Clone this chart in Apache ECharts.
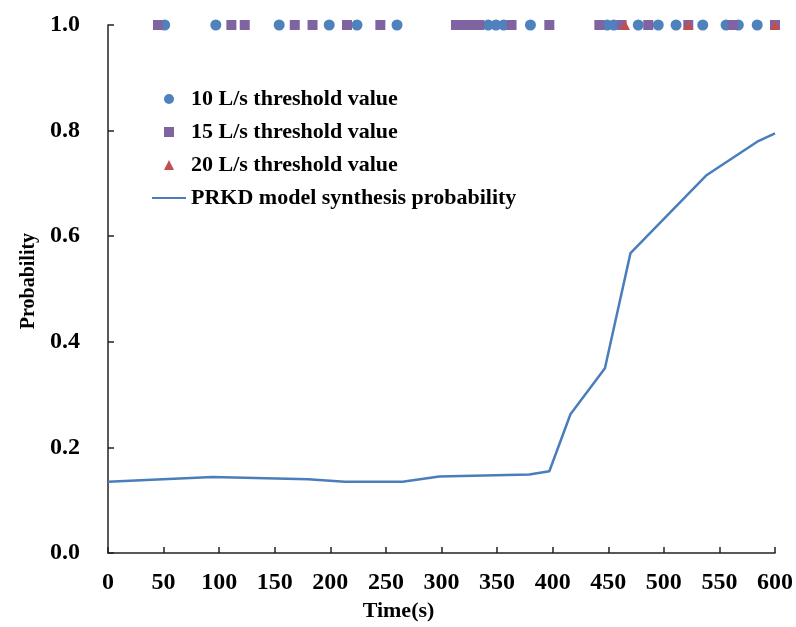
<!DOCTYPE html>
<html>
<head>
<meta charset="utf-8">
<script src="https://cdn.jsdelivr.net/npm/echarts@6/dist/echarts.min.js"></script>
<style>
  html, body { margin: 0; padding: 0; background: #fff; }
  #chart { width: 796px; height: 627px; }
</style>
</head>
<body>
<div id="chart"></div>
<script>
// Times (s) at which each leakage threshold was exceeded (plotted at probability 1.0)
const threshold10 = [51, 97, 154, 199, 224, 260, 342, 349, 356, 380, 449, 455, 477, 495, 511, 535, 556, 567, 584];
const threshold15 = [45, 111, 123, 168, 184, 215, 245, 313, 321, 328, 334, 363, 397, 442, 462, 486, 522, 562, 600];
const threshold20 = [465, 522, 600];

// PRKD model synthesis probability over time
const modelTime = [0, 94, 180, 213, 265, 298, 379, 397, 416, 447, 470, 538, 584, 600];
const modelProb = [0.135, 0.144, 0.140, 0.135, 0.135, 0.145, 0.149, 0.155, 0.263, 0.350, 0.568, 0.715, 0.779, 0.795];

const xTicks = { min: 0, max: 600, step: 50 };
const yTicks = { min: 0, max: 1, step: 0.2 };

const serif = '"Liberation Serif", "Times New Roman", serif';
const axisColor = '#222';
const blue = '#4F81BD', lineBlue = '#4A7EBB', purple = '#8064A2', red = '#C0504D';

const atOne = arr => arr.map(t => [t, 1]);

// Legend icons keep their own aspect ratio inside the legend slot
const iconSquare = 'path://M0,0 L10,0 L10,10 L0,10 Z';
const iconTriangle = 'path://M5,0 L10,10 L0,10 Z';
const iconLine = 'path://M0,0 L34,0 L34,2.2 L0,2.2 Z';

const chart = echarts.init(document.getElementById('chart'), null, { renderer: 'canvas' });
chart.setOption({
  animation: false,
  backgroundColor: '#fff',
  grid: { left: 108, right: 19, top: 25, bottom: 73, containLabel: false },
  legend: {
    orient: 'vertical',
    left: 147,
    top: 82,
    itemWidth: 34,
    itemHeight: 10,
    itemGap: 9,
    symbolKeepAspect: true,
    textStyle: { fontFamily: serif, fontWeight: 'bold', fontSize: 22, color: '#000', lineHeight: 24 },
    data: [
      { name: '10 L/s threshold value', icon: 'circle' },
      { name: '15 L/s threshold value', icon: iconSquare },
      { name: '20 L/s threshold value', icon: iconTriangle },
      { name: 'PRKD model synthesis probability', icon: iconLine }
    ]
  },
  xAxis: {
    type: 'value',
    min: xTicks.min, max: xTicks.max, interval: xTicks.step,
    name: 'Time(s)',
    nameLocation: 'middle',
    nameGap: 46,
    nameTextStyle: { fontFamily: serif, fontWeight: 'bold', fontSize: 22, color: '#000', padding: [0, 86, 0, 0] },
    axisLine: { show: true, onZero: false, lineStyle: { color: axisColor, width: 1.5 } },
    axisTick: { show: true, inside: true, length: 6, lineStyle: { color: axisColor, width: 1.5 } },
    axisLabel: { fontFamily: serif, fontWeight: 'bold', fontSize: 24, color: '#000', margin: 18 },
    splitLine: { show: false }
  },
  yAxis: {
    type: 'value',
    min: yTicks.min, max: yTicks.max, interval: yTicks.step,
    name: 'Probability',
    nameLocation: 'middle',
    nameGap: 69,
    nameTextStyle: { fontFamily: serif, fontWeight: 'bold', fontSize: 20, color: '#000', padding: [0, 0, 0, 16] },
    axisLine: { show: true, lineStyle: { color: axisColor, width: 1.5 } },
    axisTick: { show: true, inside: true, length: 6, lineStyle: { color: axisColor, width: 1.5 } },
    axisLabel: { fontFamily: serif, fontWeight: 'bold', fontSize: 24, color: '#000', margin: 28,
                 formatter: v => v.toFixed(1) },
    splitLine: { show: false }
  },
  series: [
    {
      name: 'PRKD model synthesis probability',
      type: 'line',
      data: modelTime.map((t, i) => [t, modelProb[i]]),
      symbol: 'none',
      lineStyle: { color: lineBlue, width: 2.5 },
      itemStyle: { color: lineBlue },
      z: 2
    },
    {
      name: '10 L/s threshold value',
      type: 'scatter',
      data: atOne(threshold10),
      symbol: 'circle',
      symbolSize: 11,
      clip: false,
      itemStyle: { color: blue, opacity: 1 },
      z: 3
    },
    {
      name: '15 L/s threshold value',
      type: 'scatter',
      data: atOne(threshold15),
      symbol: 'rect',
      symbolSize: 10,
      clip: false,
      itemStyle: { color: purple, opacity: 1 },
      z: 4
    },
    {
      name: '20 L/s threshold value',
      type: 'scatter',
      data: atOne(threshold20),
      symbol: 'triangle',
      symbolSize: 10,
      clip: false,
      itemStyle: { color: red, opacity: 1 },
      z: 5
    }
  ]
});
</script>
</body>
</html>
